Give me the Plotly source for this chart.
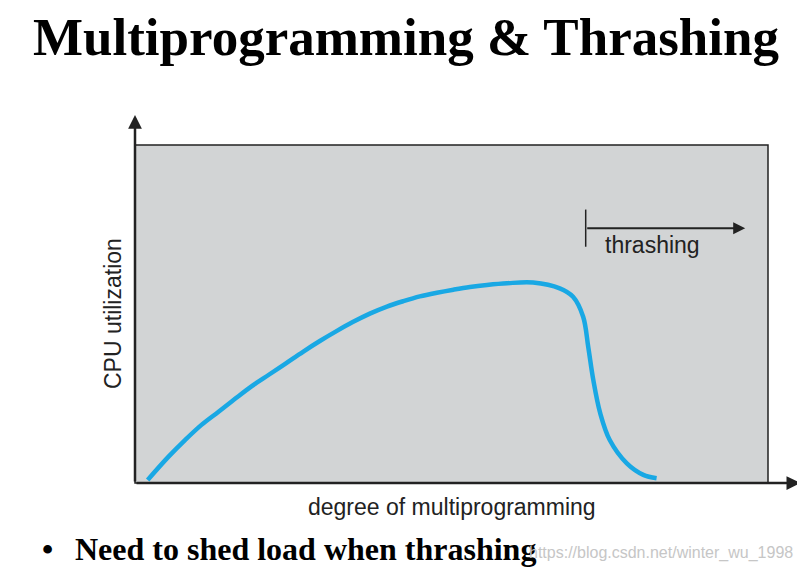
import plotly.graph_objects as go

# curve (x: degree of multiprogramming, y: CPU utilization, 0-100 scale)
degree = [2.0, 5.3, 7.9, 10.5, 13.2, 15.8, 18.4, 21.2, 23.9, 26.6, 29.2, 31.9, 34.4, 37.1,
          39.8, 42.4, 45.0, 47.7, 50.3, 52.9, 55.6, 58.8, 62.9, 67.1,
          69.2, 70.8, 71.6, 72.4, 73.5, 75.0, 77.7, 80.3, 82.4]
cpu_util = [0.9, 7.8, 12.7, 17.2, 21.1, 24.9, 28.6, 32.1, 35.5, 38.9, 42.0, 45.0, 47.6, 50.1,
            52.2, 53.8, 55.2, 56.3, 57.2, 58.0, 58.6, 59.1, 59.3, 57.6,
            55.1, 49.2, 40.3, 30.5, 20.6, 12.7, 5.8, 2.4, 1.4]

thrash_start = 71.2
thrash_end = 96.4
thrash_y = 75.4

# the page body adds an 8px margin, so the figure itself is a bit smaller
OFF = 8
W, H = 805 - OFF, 560
PL, PR, PT, PB = 135, 768, 145, 483   # plot area in page pixels
L, T = PL - OFF, PT - OFF
R, B = W - (PR - OFF), H - (PB - OFF)


def px_x(p):
    return (p - PL) / (PR - PL)


def px_y(p):
    return (PB - p) / (PB - PT)


AXIS_COLOR = "#222222"
CURVE_COLOR = "#19a8e4"
SANS = "Liberation Sans, Arial, sans-serif"
SERIF = "Liberation Serif, Times New Roman, serif"

fig = go.Figure()
fig.add_trace(go.Scatter(
    x=degree, y=cpu_util, mode="lines",
    line=dict(color=CURVE_COLOR, width=4.5, shape="spline", smoothing=1.0),
    hoverinfo="skip", showlegend=False,
))

# top/right frame of the plot area
fig.add_shape(type="rect", xref="paper", yref="paper", x0=0, x1=1, y0=0, y1=1,
              line=dict(color=AXIS_COLOR, width=1.5), layer="above")

# thrashing marker tick
fig.add_shape(type="line", xref="x", yref="y", x0=thrash_start, x1=thrash_start,
              y0=thrash_y - 5.5, y1=thrash_y + 5.5, line=dict(color=AXIS_COLOR, width=1.5))

annotations = [
    # axis arrows
    dict(x=0, y=108.9, ax=0, ay=0, xref="x", yref="y", axref="x", ayref="y",
         text="", showarrow=True, arrowhead=2, arrowsize=1.1, arrowwidth=2.5, arrowcolor=AXIS_COLOR),
    dict(x=105.1, y=0, ax=0, ay=0, xref="x", yref="y", axref="x", ayref="y",
         text="", showarrow=True, arrowhead=2, arrowsize=1.1, arrowwidth=2.5, arrowcolor=AXIS_COLOR),
    # thrashing arrow
    dict(x=thrash_end, y=thrash_y, ax=thrash_start, ay=thrash_y, xref="x", yref="y", axref="x", ayref="y",
         text="", showarrow=True, arrowhead=2, arrowsize=1.2, arrowwidth=2, arrowcolor=AXIS_COLOR),
    dict(x=px_x(652), y=px_y(245), xref="paper", yref="paper", xanchor="center", yanchor="middle",
         text="thrashing", showarrow=False, font=dict(family=SANS, size=23, color=AXIS_COLOR)),
    # axis labels
    dict(x=px_x(113), y=px_y(314), xref="paper", yref="paper", xanchor="center", yanchor="middle",
         text="CPU utilization", textangle=-90, showarrow=False,
         font=dict(family=SANS, size=23, color=AXIS_COLOR)),
    dict(x=px_x(452), y=px_y(507), xref="paper", yref="paper", xanchor="center", yanchor="middle",
         text="degree of multiprogramming", showarrow=False,
         font=dict(family=SANS, size=23, color=AXIS_COLOR)),
    # title
    dict(x=px_x(406), y=px_y(36.5), xref="paper", yref="paper", xanchor="center", yanchor="middle",
         text="<b>Multiprogramming & Thrashing</b>", showarrow=False,
         font=dict(family=SERIF, size=53, color="black")),
    # bullet line
    dict(x=px_x(47), y=px_y(549), xref="paper", yref="paper", xanchor="center", yanchor="middle",
         text="<b>•</b>", showarrow=False, font=dict(family=SERIF, size=32, color="black")),
    dict(x=px_x(73), y=px_y(549), xref="paper", yref="paper", xanchor="left", yanchor="middle",
         text="<b>Need to shed load when thrashing</b>", showarrow=False,
         font=dict(family=SERIF, size=32, color="black")),
    dict(x=px_x(795), y=px_y(553), xref="paper", yref="paper", xanchor="right", yanchor="middle",
         text="https://blog.csdn.net/winter_wu_1998", showarrow=False,
         font=dict(family=SANS, size=16, color="#c6c6c6")),
]

fig.update_layout(
    width=W, height=H,
    margin=dict(l=L, r=R, t=T, b=B, autoexpand=False),
    paper_bgcolor="white",
    plot_bgcolor="#d2d4d5",
    annotations=annotations,
    showlegend=False,
)
fig.update_xaxes(range=[0, 100], showgrid=False, zeroline=False, showticklabels=False, ticks="")
fig.update_yaxes(range=[0, 100], showgrid=False, zeroline=False, showticklabels=False, ticks="")

fig.write_html("out.html")
